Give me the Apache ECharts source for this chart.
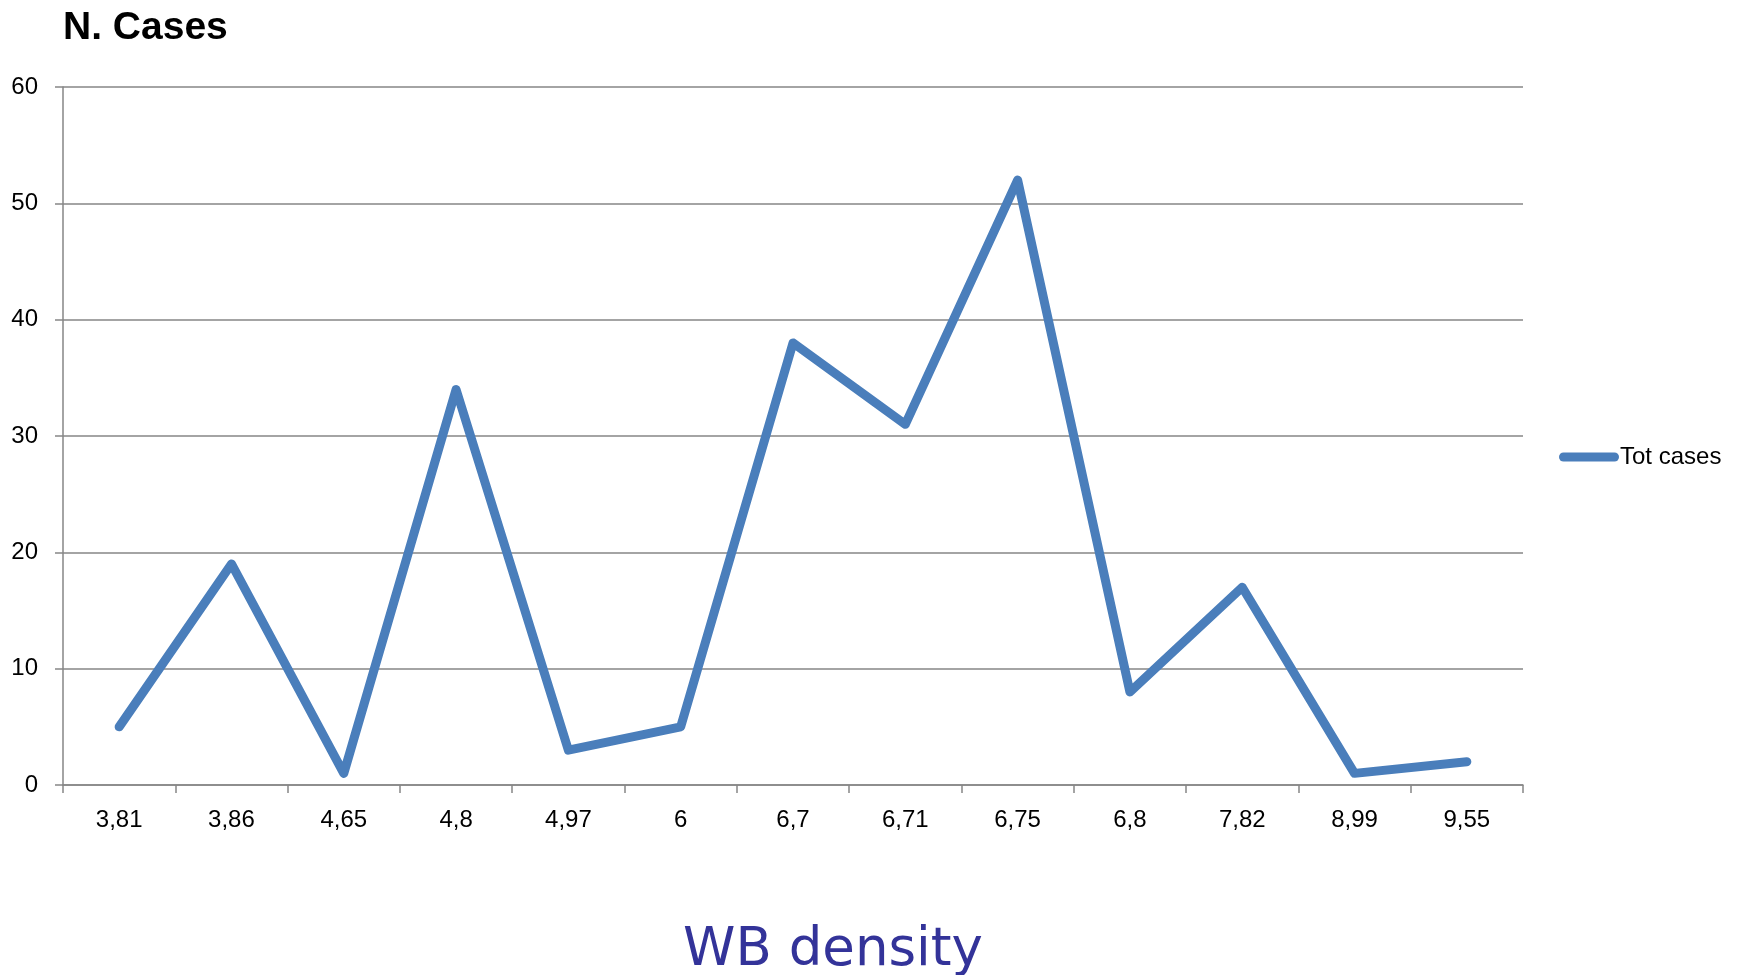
<!DOCTYPE html>
<html>
<head>
<meta charset="utf-8">
<script src="https://cdn.jsdelivr.net/npm/echarts@6/dist/echarts.min.js"></script>
<style>html,body{margin:0;padding:0;background:#fff}#c{width:1738px;height:975px}</style>
</head>
<body>
<div id="c"></div>
<script>
const categories = ["3,81","3,86","4,65","4,8","4,97","6","6,7","6,71","6,75","6,8","7,82","8,99","9,55"];
const totCases = [5, 19, 1, 34, 3, 5, 38, 31, 52, 8, 17, 1, 2];
const yTicks = [0, 10, 20, 30, 40, 50, 60];

const chart = echarts.init(document.getElementById('c'), null, {renderer: 'canvas'});
chart.setOption({
  animation: false,
  backgroundColor: '#ffffff',
  title: {
    text: 'N. Cases',
    left: 58, top: 4,
    textStyle: {fontFamily: 'Liberation Sans', fontWeight: 'bold', fontSize: 39, color: '#000'}
  },
  legend: {
    data: [{name: 'Tot cases', icon: 'path://M4.5,0 H55.5 A4.5,4.5 0 0 1 55.5,9 H4.5 A4.5,4.5 0 0 1 4.5,0 Z'}],
    left: 1554, top: 440,
    itemWidth: 60, itemHeight: 9, itemGap: 0,
    textStyle: {fontFamily: 'Liberation Sans', fontSize: 24, color: '#000', padding: [0,0,0,-4]},
    itemStyle: {color: '#4A7EBB'}
  },
  grid: {left: 63, right: 215, top: 87, bottom: 190, containLabel: false, outerBoundsMode: 'none'},
  xAxis: {
    type: 'category',
    data: categories,
    boundaryGap: true,
    name: 'WB density',
    nameLocation: 'middle',
    nameGap: 140,
    nameTextStyle: {fontFamily: 'DejaVu Sans', fontSize: 53, color: '#333399', padding: [0,0,0,80]},
    axisLine: {lineStyle: {color: '#868686', width: 1.5}},
    axisTick: {show: true, alignWithLabel: false, length: 8, lineStyle: {color: '#868686', width: 1.5}},
    axisLabel: {fontFamily: 'Liberation Sans', fontSize: 24, color: '#000', margin: 23, interval: 0},
    splitLine: {show: false}
  },
  yAxis: {
    type: 'value',
    min: yTicks[0], max: yTicks[yTicks.length-1], interval: 10,
    axisLine: {show: true, lineStyle: {color: '#868686', width: 1.5}},
    axisTick: {show: true, length: 8, lineStyle: {color: '#868686', width: 1.5}},
    axisLabel: {fontFamily: 'Liberation Sans', fontSize: 24, color: '#000', margin: 25},
    splitLine: {show: true, lineStyle: {color: '#868686', width: 1.5}}
  },
  series: [{
    name: 'Tot cases',
    type: 'line',
    data: totCases,
    symbol: 'none',
    color: '#4A7EBB',
    lineStyle: {width: 9, color: '#4A7EBB', cap: 'round', join: 'round'}
  }]
});
</script>
</body>
</html>
